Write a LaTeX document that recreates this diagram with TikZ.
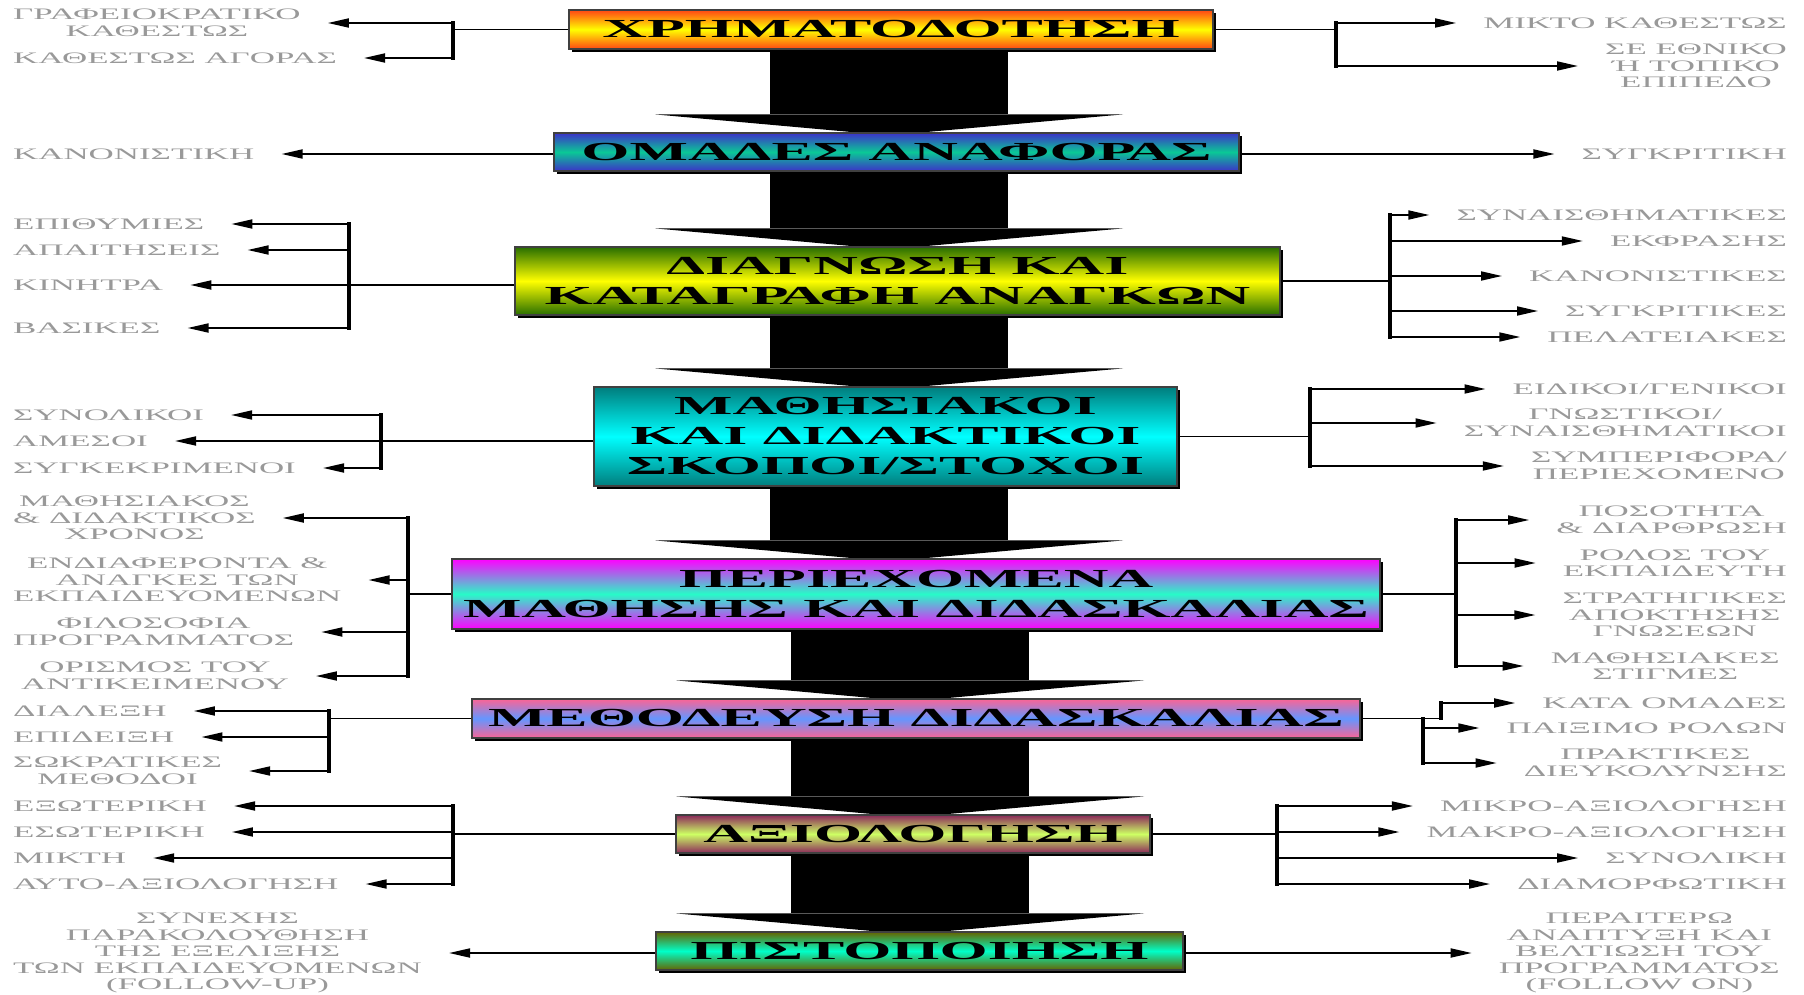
\documentclass[tikz,border=0pt]{standalone}
\usepackage{fontspec}
\usetikzlibrary{arrows.meta,shadows,backgrounds,calc}
\newfontfamily\stagefont[FakeStretch=2.38]{Liberation Serif}
\newfontfamily\itemfont[FakeStretch=2.18]{Liberation Serif}
\definecolor{fundA}{RGB}{255,70,20}
\definecolor{fundB}{RGB}{255,255,0}
\definecolor{refA}{RGB}{60,50,200}
\definecolor{refB}{RGB}{10,200,150}
\definecolor{diagA}{RGB}{40,110,0}
\definecolor{diagB}{RGB}{255,255,0}
\definecolor{goalA}{RGB}{0,125,125}
\definecolor{goalB}{RGB}{0,255,255}
\definecolor{contA}{RGB}{255,0,255}
\definecolor{contB}{RGB}{40,250,200}
\definecolor{methA}{RGB}{250,100,150}
\definecolor{methB}{RGB}{100,150,255}
\definecolor{evalA}{RGB}{140,40,90}
\definecolor{evalB}{RGB}{205,255,100}
\definecolor{certA}{RGB}{100,100,0}
\definecolor{certB}{RGB}{0,255,200}
\tikzset{
	stage/.style={draw=black!75, line width=1.2pt, inner sep=0pt, align=center,
		font=\stagefont\bfseries\fontsize{26}{30}\selectfont,
		drop shadow={shadow xshift=3pt, shadow yshift=-3pt, opacity=1, fill=black}},
	shadeof/.style n args={2}{top color=#1, bottom color=#1, middle color=#2},
	item/.style={inner sep=0pt, align=center, text=black!40,
		font=\itemfont\fontsize{16}{16.5}\selectfont},
	link/.style={line width=1.8pt},
	fork/.style={line width=3.5pt, line cap=rect},
	tip/.style={link, -{Triangle[length=21pt,width=9pt]}, shorten >=27pt},
}
\begin{document}
\begin{tikzpicture}[x=1pt, y=-1pt]
	\useasboundingbox (0,0) rectangle (1804,995);
	
	%stages
	\node[stage, shadeof={fundA}{fundB}, minimum width=644pt, minimum height=39pt] (fund) at (891,29.5) {ΧΡΗΜΑΤΟΔΟΤΗΣΗ};
	\node[stage, shadeof={refA}{refB}, minimum width=685pt, minimum height=38pt] (refgrp) at (896.5,152) {ΟΜΑΔΕΣ ΑΝΑΦΟΡΑΣ};
	\node[stage, shadeof={diagA}{diagB}, minimum width=765pt, minimum height=68pt] (diag) at (897.5,281) {ΔΙΑΓΝΩΣΗ ΚΑΙ\\ΚΑΤΑΓΡΑΦΗ ΑΝΑΓΚΩΝ};
	\node[stage, shadeof={goalA}{goalB}, minimum width=583pt, minimum height=99pt] (goals) at (885.5,436.5) {ΜΑΘΗΣΙΑΚΟΙ\\ΚΑΙ ΔΙΔΑΚΤΙΚΟΙ\\ΣΚΟΠΟΙ/ΣΤΟΧΟΙ};
	\node[stage, shadeof={contA}{contB}, minimum width=928pt, minimum height=70pt] (content) at (916,594) {ΠΕΡΙΕΧΟΜΕΝΑ\\ΜΑΘΗΣΗΣ ΚΑΙ ΔΙΔΑΣΚΑΛΙΑΣ};
	\node[stage, shadeof={methA}{methB}, minimum width=888pt, minimum height=39pt] (method) at (916,718.5) {ΜΕΘΟΔΕΥΣΗ ΔΙΔΑΣΚΑΛΙΑΣ};
	\node[stage, shadeof={evalA}{evalB}, minimum width=474pt, minimum height=38pt] (eval) at (913,834) {ΑΞΙΟΛΟΓΗΣΗ};
	\node[stage, shadeof={certA}{certB}, minimum width=527pt, minimum height=38pt] (cert) at (919.5,951) {ΠΙΣΤΟΠΟΙΗΣΗ};
	
	%big arrows between stages
	\begin{scope}[on background layer]
		\foreach \a/\b/\c in {fund/refgrp/889, refgrp/diag/889, diag/goals/889, goals/content/889, content/method/910, method/eval/910, eval/cert/910}{
			\fill ({\c-119},0 |- \a.south) rectangle ($({\c+119},0 |- \b.north)+(0,-18)$);
			\fill ($({\c-234},0 |- \b.north)+(0,-18)$) -- ($({\c+234},0 |- \b.north)+(0,-18)$) -- ($(\c,0 |- \b.north)+(0,3)$) -- cycle;
		}
	\end{scope}
	
	%left items
	\foreach \n/\x/\y/\t in {lbur/13/23/{ΓΡΑΦΕΙΟΚΡΑΤΙΚΟ\\ΚΑΘΕΣΤΩΣ}, lmkt/13/58/{ΚΑΘΕΣΤΩΣ ΑΓΟΡΑΣ},
		lnorm/13/154/ΚΑΝΟΝΙΣΤΙΚΗ,
		lwish/13/224/ΕΠΙΘΥΜΙΕΣ, ldem/13/250/ΑΠΑΙΤΗΣΕΙΣ, lmot/13/285/ΚΙΝΗΤΡΑ, lbas/13/328/ΒΑΣΙΚΕΣ,
		lglob/13/415/ΣΥΝΟΛΙΚΟΙ, ldir/13/441/ΑΜΕΣΟΙ, lspec/13/468/ΣΥΓΚΕΚΡΙΜΕΝΟΙ,
		ltime/13/518/{ΜΑΘΗΣΙΑΚΟΣ\\\& ΔΙΔΑΚΤΙΚΟΣ\\ΧΡΟΝΟΣ}, lint/13/580/{ΕΝΔΙΑΦΕΡΟΝΤΑ \&\\ΑΝΑΓΚΕΣ ΤΩΝ\\ΕΚΠΑΙΔΕΥΟΜΕΝΩΝ},
		lphil/13/632/{ΦΙΛΟΣΟΦΙΑ\\ΠΡΟΓΡΑΜΜΑΤΟΣ}, ldef/21/676/{ΟΡΙΣΜΟΣ ΤΟΥ\\ΑΝΤΙΚΕΙΜΕΝΟΥ},
		llect/13/711/ΔΙΑΛΕΞΗ, ldemo/13/737/ΕΠΙΔΕΙΞΗ, lsocr/13/771/{ΣΩΚΡΑΤΙΚΕΣ\\ΜΕΘΟΔΟΙ},
		lext/13/806/ΕΞΩΤΕΡΙΚΗ, linn/13/832/ΕΣΩΤΕΡΙΚΗ, lmix/13/858/ΜΙΚΤΗ, lself/13/884/ΑΥΤΟ-ΑΞΙΟΛΟΓΗΣΗ,
		lfol/13/953/{ΣΥΝΕΧΗΣ\\ΠΑΡΑΚΟΛΟΥΘΗΣΗ\\ΤΗΣ ΕΞΕΛΙΞΗΣ\\ΤΩΝ ΕΚΠΑΙΔΕΥΟΜΕΝΩΝ\\(FOLLOW-UP)}}
		\node[item, anchor=west] (\n) at (\x,\y) {\t};
	
	%right items
	\foreach \n/\x/\y/\t in {rmix/1787/23/{ΜΙΚΤΟ ΚΑΘΕΣΤΩΣ}, rlvl/1787/66/{ΣΕ ΕΘΝΙΚΟ\\Ή ΤΟΠΙΚΟ\\ΕΠΙΠΕΔΟ},
		rcomp/1787/154/ΣΥΓΚΡΙΤΙΚΗ,
		remo/1787/215/ΣΥΝΑΙΣΘΗΜΑΤΙΚΕΣ, rexpr/1787/241/ΕΚΦΡΑΣΗΣ, rnorm/1787/276/ΚΑΝΟΝΙΣΤΙΚΕΣ,
		rcmp/1787/311/ΣΥΓΚΡΙΤΙΚΕΣ, rcli/1787/337/ΠΕΛΑΤΕΙΑΚΕΣ,
		rgen/1787/389/{ΕΙΔΙΚΟΙ/ΓΕΝΙΚΟΙ}, rcog/1787/423/{ΓΝΩΣΤΙΚΟΙ/\\ΣΥΝΑΙΣΘΗΜΑΤΙΚΟΙ}, rbeh/1787/466/{ΣΥΜΠΕΡΙΦΟΡΑ/\\ΠΕΡΙΕΧΟΜΕΝΟ},
		rqty/1787/520/{ΠΟΣΟΤΗΤΑ\\\& ΔΙΑΡΘΡΩΣΗ}, rrole/1787/563/{ΡΟΛΟΣ ΤΟΥ\\ΕΚΠΑΙΔΕΥΤΗ},
		rstrat/1787/615/{ΣΤΡΑΤΗΓΙΚΕΣ\\ΑΠΟΚΤΗΣΗΣ\\ΓΝΩΣΕΩΝ}, rmom/1780/666/{ΜΑΘΗΣΙΑΚΕΣ\\ΣΤΙΓΜΕΣ},
		rgrp/1787/703/{ΚΑΤΑ ΟΜΑΔΕΣ}, rplay/1787/728/{ΠΑΙΞΙΜΟ ΡΟΛΩΝ}, rfac/1787/763/{ΠΡΑΚΤΙΚΕΣ\\ΔΙΕΥΚΟΛΥΝΣΗΣ},
		rmicro/1787/806/ΜΙΚΡΟ-ΑΞΙΟΛΟΓΗΣΗ, rmacro/1787/832/ΜΑΚΡΟ-ΑΞΙΟΛΟΓΗΣΗ, rsum/1787/858/ΣΥΝΟΛΙΚΗ, rform/1787/884/ΔΙΑΜΟΡΦΩΤΙΚΗ,
		rfon/1780/953/{ΠΕΡΑΙΤΕΡΩ\\ΑΝΑΠΤΥΞΗ ΚΑΙ\\ΒΕΛΤΙΩΣΗ ΤΟΥ\\ΠΡΟΓΡΑΜΜΑΤΟΣ\\(FOLLOW ON)}}
		\node[item, anchor=east] (\n) at (\x,\y) {\t};
	
	%left connectors
	\draw[link] (fund.west) -- (453,0 |- fund.west);
	\draw[fork] (453,0 |- lbur) -- (453,0 |- lmkt);
	\foreach \n in {lbur, lmkt}
		\draw[tip] (453,0 |- \n) -- (\n);
	
	\draw[tip] (refgrp.west |- lnorm) -- (lnorm);
	
	\draw[tip] (diag.west |- lmot) -- (lmot);
	\draw[fork] (349,0 |- lwish) -- (349,0 |- lbas);
	\foreach \n in {lwish, ldem, lbas}
		\draw[tip] (349,0 |- \n) -- (\n);
	
	\draw[tip] (goals.west |- ldir) -- (ldir);
	\draw[fork] (381,0 |- lglob) -- (381,0 |- lspec);
	\foreach \n in {lglob, lspec}
		\draw[tip] (381,0 |- \n) -- (\n);
	
	\draw[link] (content.west) -- (408,0 |- content.west);
	\draw[fork] (408,0 |- ltime) -- (408,0 |- ldef);
	\foreach \n in {ltime, lint, lphil, ldef}
		\draw[tip] (408,0 |- \n) -- (\n);
	
	\draw[link] (method.west) -- (329,0 |- method.west);
	\draw[fork] (329,0 |- llect) -- (329,0 |- lsocr);
	\foreach \n in {llect, ldemo, lsocr}
		\draw[tip] (329,0 |- \n) -- (\n);
	
	\draw[link] (eval.west) -- (453,0 |- eval.west);
	\draw[fork] (453,0 |- lext) -- (453,0 |- lself);
	\foreach \n in {lext, linn, lmix, lself}
		\draw[tip] (453,0 |- \n) -- (\n);
	
	\draw[tip] (cert.west |- lfol) -- (lfol);
	
	%right connectors
	\draw[link] (fund.east) -- (1336,0 |- fund.east);
	\draw[fork] (1336,0 |- rmix) -- (1336,0 |- rlvl);
	\foreach \n in {rmix, rlvl}
		\draw[tip] (1336,0 |- \n) -- (\n);
	
	\draw[tip] (refgrp.east |- rcomp) -- (rcomp);
	
	\draw[link] (diag.east) -- (1390,0 |- diag.east);
	\draw[fork] (1390,0 |- remo) -- (1390,0 |- rcli);
	\foreach \n in {remo, rexpr, rnorm, rcmp, rcli}
		\draw[tip] (1390,0 |- \n) -- (\n);
	
	\draw[link] (goals.east) -- (1310,0 |- goals.east);
	\draw[fork] (1310,0 |- rgen) -- (1310,0 |- rbeh);
	\foreach \n in {rgen, rcog, rbeh}
		\draw[tip] (1310,0 |- \n) -- (\n);
	
	\draw[link] (content.east) -- (1456,0 |- content.east);
	\draw[fork] (1456,0 |- rqty) -- (1456,0 |- rmom);
	\foreach \n in {rqty, rrole, rstrat, rmom}
		\draw[tip] (1456,0 |- \n) -- (\n);
	
	\draw[link] (method.east) -- (1441,0 |- method.east);
	\draw[fork] (1441,0 |- method.east) -- (1441,0 |- rgrp);
	\draw[tip] (1441,0 |- rgrp) -- (rgrp);
	\draw[fork] (1423,0 |- method.east) -- (1423,0 |- rfac);
	\foreach \n in {rplay, rfac}
		\draw[tip] (1423,0 |- \n) -- (\n);
	
	\draw[link] (eval.east) -- (1277,0 |- eval.east);
	\draw[fork] (1277,0 |- rmicro) -- (1277,0 |- rform);
	\foreach \n in {rmicro, rmacro, rsum, rform}
		\draw[tip] (1277,0 |- \n) -- (\n);
	
	\draw[tip] (cert.east |- rfon) -- (rfon);
\end{tikzpicture}
\end{document}
